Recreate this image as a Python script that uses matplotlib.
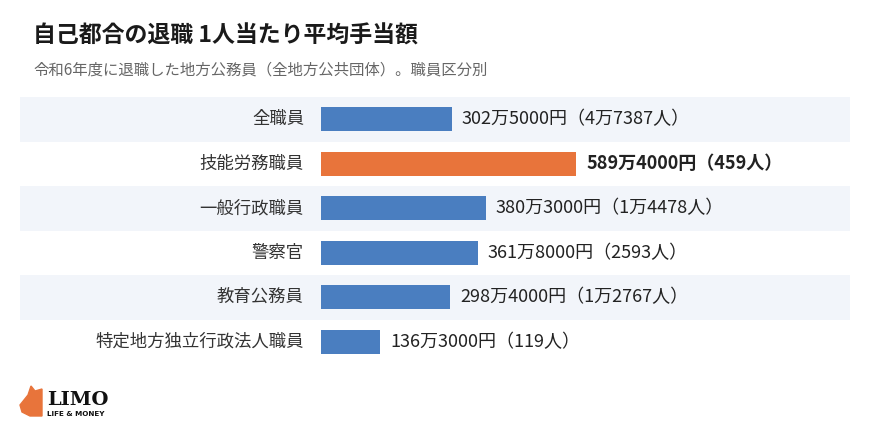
import matplotlib.pyplot as plt
from matplotlib import patches

plt.rcParams['font.family'] = ['Noto Sans CJK JP', 'DejaVu Sans']

# 職員区分と退職手当（円）・人数
categories = ['全職員', '技能労務職員', '一般行政職員', '警察官', '教育公務員', '特定地方独立行政法人職員']
amounts = [3025000, 5894000, 3803000, 3618000, 2984000, 1363000]
headcounts = [47387, 459, 14478, 2593, 12767, 119]
highlight = '技能労務職員'

BLUE = '#4a7ec0'
ORANGE = '#e8743b'
BAND = '#f2f5fa'


def fmt_yen(v):
    man, rest = divmod(v, 10000)
    return f"{man}万{rest:04d}円"


def fmt_people(n):
    man, rest = divmod(n, 10000)
    if man:
        return f"{man}万{rest:04d}人"
    return f"{n}人"


W, H = 870, 437
fig = plt.figure(figsize=(W / 100, H / 100), dpi=100)
fig.patch.set_facecolor('white')

# axes spans the band area; bars start at pixel 321
ax_l, ax_r, ax_t, ax_b = 20, 850, 97, 364
ax = fig.add_axes([ax_l / W, 1 - ax_b / H, (ax_r - ax_l) / W, (ax_b - ax_t) / H])
px_per_unit = 131 / 3025000
ax.set_xlim(-(321 - ax_l) / px_per_unit, (ax_r - 321) / px_per_unit)
ax.set_ylim(len(categories) - 0.5, -0.5)
ax.axis('off')

for i, (cat, amt, cnt) in enumerate(zip(categories, amounts, headcounts)):
    if i % 2 == 0:
        ax.axhspan(i - 0.5, i + 0.5, color=BAND, lw=0, zorder=0)
    hl = cat == highlight
    ax.barh(i, amt, height=0.54, color=ORANGE if hl else BLUE, zorder=2)
    ax.text(-17 / px_per_unit, i, cat, ha='right', va='center',
            fontsize=12.5, color='#333333')
    ax.text(amt + 10 / px_per_unit, i, f"{fmt_yen(amt)}（{fmt_people(cnt)}）",
            ha='left', va='center', fontsize=13, color='#222222',
            fontweight='bold' if hl else 'normal')

fig.text(33 / W, 1 - 36 / H, '自己都合の退職 1人当たり平均手当額',
         fontsize=16.5, fontweight='bold', color='#1a1a1a', va='center')
fig.text(33 / W, 1 - 70 / H, '令和6年度に退職した地方公務員（全地方公共団体）。職員区分別',
         fontsize=11.1, color='#666666', va='center')

# logo: small orange pig head facing left
logo = patches.Polygon([(20 / W, 1 - 405 / H), (28 / W, 1 - 395 / H), (31 / W, 1 - 386 / H),
                        (35 / W, 1 - 391 / H), (42 / W, 1 - 389 / H), (42 / W, 1 - 416 / H),
                        (30 / W, 1 - 416 / H), (22 / W, 1 - 412 / H)],
                       closed=True, transform=fig.transFigure, color=ORANGE)
fig.add_artist(logo)
fig.text(47 / W, 1 - 400 / H, 'LIMO', fontsize=14, fontweight='bold',
         family='DejaVu Serif', color='#111111', va='center')
fig.text(47 / W, 1 - 414 / H, 'LIFE & MONEY', fontsize=5.2, fontweight='bold',
         family='DejaVu Sans', color='#111111', va='center')

fig.savefig('out.png', dpi=100)
